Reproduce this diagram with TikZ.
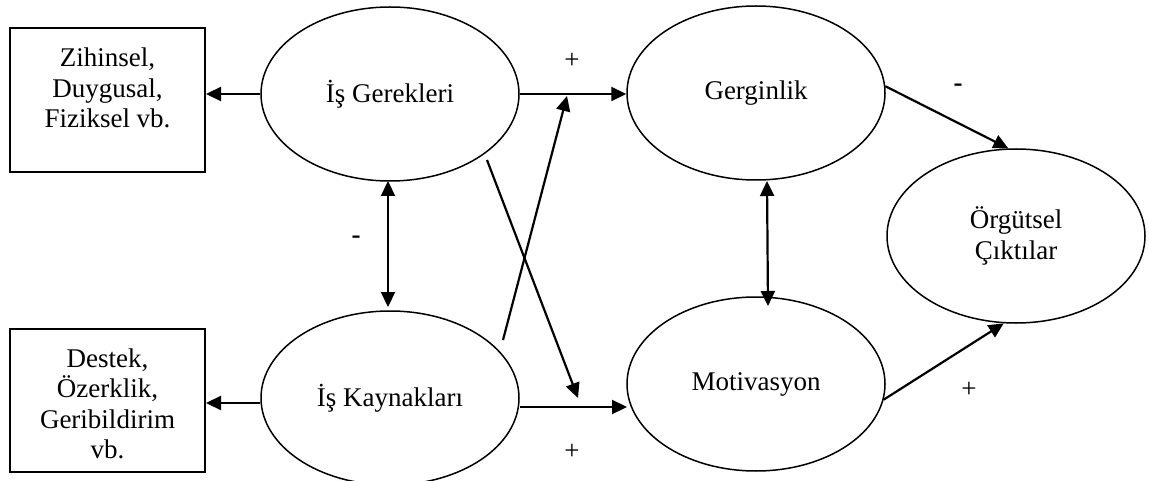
\documentclass[tikz,border=0pt]{standalone}
\usepackage{fontspec}
\setmainfont{Liberation Serif}
\usetikzlibrary{shapes.geometric,arrows.meta}
\begin{document}
\begin{tikzpicture}[x=1pt,y=-1pt,
  every node/.style={font=\fontsize{27}{30.5}\selectfont},
  oval/.style={draw,ellipse,line width=1.5pt,minimum width=258pt,minimum height=174pt,inner sep=0pt,align=center},
  boxframe/.style={draw,rectangle,line width=2pt,minimum width=195pt,inner sep=0pt},
  txt/.style={align=center,inner sep=0pt},
  conn/.style={line width=2.2pt,-{Triangle[length=15pt,width=14pt]}},
  biconn/.style={line width=2.2pt,{Triangle[length=15pt,width=14pt]}-{Triangle[length=15pt,width=14pt]}},
  sign/.style={inner sep=0pt}]
\useasboundingbox (0,0) rectangle (1149,481);
% boxes
\node[boxframe,minimum height=144pt] (b1) at (107.5,100) {};
\node[txt] (b1t) at (107.5,88) {Zihinsel,\\Duygusal,\\Fiziksel vb.};
\node[boxframe,minimum height=143pt] (b2) at (107.5,400.5) {};
\node[txt] (b2t) at (107.5,404) {Destek,\\Özerklik,\\Geribildirim\\vb.};
% ellipses
\node[oval] (ig) at (390,94) {İş Gerekleri};
\node[oval] (ik) at (390,398) {İş Kaynakları};
\node[oval] (ge) at (756,93) {Gerginlik};
\node[oval] (mo) at (756,384) {Motivasyon};
\node[oval] (oc) at (1016,236) {Örgütsel\\Çıktılar};
% free ends
\coordinate (x1s) at (503,340);
\coordinate (x1e) at (567,96);
\coordinate (x2s) at (487,160);
\coordinate (x2e) at (578,398);
% connectors
\draw[conn] (ig.west) -- (b1.east |- ig.west);
\draw[conn] (ik.west |- 0,403) -- (b2.east |- 0,403);
\draw[biconn] (388,181) coordinate (v1a) -- (388,307) coordinate (v1b);
\draw[conn] (ig.east) -- (ge.west |- ig.east);
\draw[conn] (520,407) coordinate (h2a) -- (627,407) coordinate (h2b);
\draw[conn] (x1s) -- (x1e);
\draw[conn] (x2s) -- (x2e);
\draw[biconn] (767,181) coordinate (v2a) -- (768,306) coordinate (v2b);
\draw[conn] (ge.3) -- (oc.95);
\draw[conn] (mo.-7) -- (oc.-98);
% signs
\node[sign] at (572,61) {+};
\node[sign] at (572,452) {+};
\node[sign] at (356,240) {\textbf{-}};
\node[sign] at (958,88) {\textbf{-}};
\node[sign] at (969,390) {+};
\end{tikzpicture}
\end{document}
